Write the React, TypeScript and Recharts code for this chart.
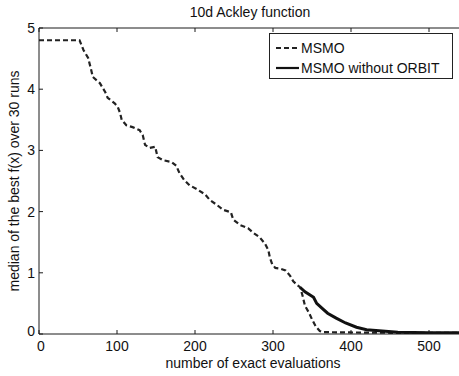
import React from 'react';
import { LineChart, Line, XAxis, YAxis } from 'recharts';

const title = '10d Ackley function';
const xLabel = 'number of exact evaluations';
const yLabel = 'median of the best f(x) over 30 runs';
const seriesNames = ['MSMO', 'MSMO without ORBIT'];

const xTicks = [0, 100, 200, 300, 400, 500];
const yTicks = [0, 1, 2, 3, 4, 5];

const msmoX = [0, 52, 57, 63, 67, 69, 78, 85, 88, 97, 101, 104, 106, 112, 120, 129, 133, 136, 142, 149, 152, 159, 170, 176, 180, 186, 193, 202, 213, 219, 228, 236, 246, 249, 258, 268, 274, 283, 290, 294, 296, 299, 303, 309, 316, 322, 326, 331, 335, 338, 341, 346, 350, 355, 360, 365, 400, 450, 550];
const msmoY = [4.8, 4.8, 4.64, 4.51, 4.31, 4.2, 4.1, 3.95, 3.86, 3.77, 3.71, 3.61, 3.5, 3.41, 3.38, 3.33, 3.25, 3.09, 3.04, 3.06, 2.89, 2.84, 2.81, 2.75, 2.63, 2.52, 2.43, 2.37, 2.28, 2.19, 2.11, 2.03, 1.99, 1.87, 1.78, 1.73, 1.66, 1.58, 1.47, 1.37, 1.25, 1.14, 1.08, 1.07, 1.04, 0.95, 0.86, 0.8, 0.76, 0.62, 0.46, 0.35, 0.24, 0.12, 0.05, 0.03, 0.025, 0.02, 0.02];

const noOrbitX = [335, 341, 347, 352, 356, 362, 370, 381, 393, 407, 420, 440, 460, 500, 550];
const noOrbitY = [0.76, 0.69, 0.64, 0.6, 0.5, 0.43, 0.34, 0.26, 0.18, 0.11, 0.07, 0.05, 0.03, 0.02, 0.02];

const msmoData = msmoX.map((x, i) => ({ x, y: msmoY[i] }));
const noOrbitData = noOrbitX.map((x, i) => ({ x, y: noOrbitY[i] }));

const FONT = '"Liberation Sans", Arial, Helvetica, sans-serif';
const AXIS = '#1a1a1a';

const BottomTick = (props: any) => {
  const { x, y, payload } = props;
  return (
    <g>
      <line x1={x} y1={y} x2={x} y2={y - 4} stroke={AXIS} strokeWidth={1} />
      <text x={x + (payload.value === 0 ? 2 : 0)} y={y + 17} textAnchor="middle" fontSize={14} fontFamily={FONT} fill="#111">
        {payload.value}
      </text>
    </g>
  );
};

const TopTick = (props: any) => {
  const { x, y } = props;
  return <line x1={x} y1={y} x2={x} y2={y + 4} stroke={AXIS} strokeWidth={1} />;
};

const LeftTick = (props: any) => {
  const { x, y, payload } = props;
  return (
    <g>
      <line x1={x} y1={y} x2={x + 4} y2={y} stroke={AXIS} strokeWidth={1} />
      <text x={x - 4} y={y + 5 - (payload.value === 0 ? 3 : 0)} textAnchor="end" fontSize={14} fontFamily={FONT} fill="#111">
        {payload.value}
      </text>
    </g>
  );
};

const LegendBox = () => (
  <div
    style={{
      position: 'absolute',
      left: 269,
      top: 33,
      width: 184,
      height: 46,
      border: '1px solid #222',
      background: '#fff',
      boxSizing: 'border-box',
    }}
  >
    <svg width={182} height={44}>
      <line x1={6} y1={14} x2={29} y2={14} stroke="#222" strokeWidth={2.2} strokeDasharray="5 3" />
      <text x={31} y={19} fontSize={14} fontFamily={FONT} fill="#111">{seriesNames[0]}</text>
      <line x1={6} y1={34} x2={29} y2={34} stroke="#111" strokeWidth={2.2} />
      <text x={31} y={39} fontSize={14} fontFamily={FONT} fill="#111">{seriesNames[1]}</text>
    </svg>
  </div>
);

export default function App() {
  return (
    <div style={{ position: 'fixed', left: 0, top: 0, width: 459, height: 376, overflow: 'hidden', background: '#fff' }}>
      <div style={{ position: 'absolute', left: 0, top: 0 }}>
        <LineChart width={480} height={376} margin={{ top: 27, right: 12, bottom: 0, left: 0 }}>
          <XAxis
            dataKey="x"
            type="number"
            domain={[0, 550]}
            ticks={xTicks}
            interval={0}
            allowDataOverflow
            tickSize={0}
            tickMargin={0}
            tick={<BottomTick />}
            axisLine={{ stroke: AXIS, strokeWidth: 1 }}
            tickLine={false}
            height={42}
          />
          <XAxis
            xAxisId="top"
            orientation="top"
            dataKey="x"
            type="number"
            domain={[0, 550]}
            ticks={xTicks}
            interval={0}
            allowDataOverflow
            tickSize={0}
            tickMargin={0}
            tick={<TopTick />}
            axisLine={{ stroke: AXIS, strokeWidth: 1 }}
            tickLine={false}
            height={1}
          />
          <YAxis
            dataKey="y"
            type="number"
            domain={[0, 5]}
            ticks={yTicks}
            interval={0}
            allowDataOverflow
            tickSize={0}
            tickMargin={0}
            tick={<LeftTick />}
            axisLine={{ stroke: AXIS, strokeWidth: 1 }}
            tickLine={false}
            width={39}
          />
          <Line
            data={msmoData}
            dataKey="y"
            name={seriesNames[0]}
            stroke="#222"
            strokeWidth={2.2}
            strokeDasharray="5 3"
            dot={false}
            activeDot={false}
            isAnimationActive={false}
          />
          <Line
            data={noOrbitData}
            dataKey="y"
            name={seriesNames[1]}
            stroke="#111"
            strokeWidth={3}
            dot={false}
            activeDot={false}
            isAnimationActive={false}
          />
        </LineChart>
      </div>
      <LegendBox />
      <svg width={459} height={376} style={{ position: 'absolute', left: 0, top: 0, pointerEvents: 'none' }}>
        <text x={250} y={17} textAnchor="middle" fontSize={14} fontFamily={FONT} fill="#111">{title}</text>
        <text x={253} y={368} textAnchor="middle" fontSize={14} fontFamily={FONT} fill="#111">{xLabel}</text>
        <text x={19} y={181} textAnchor="middle" fontSize={14} fontFamily={FONT} fill="#111" transform="rotate(-90 19 181)">{yLabel}</text>
      </svg>
    </div>
  );
}
